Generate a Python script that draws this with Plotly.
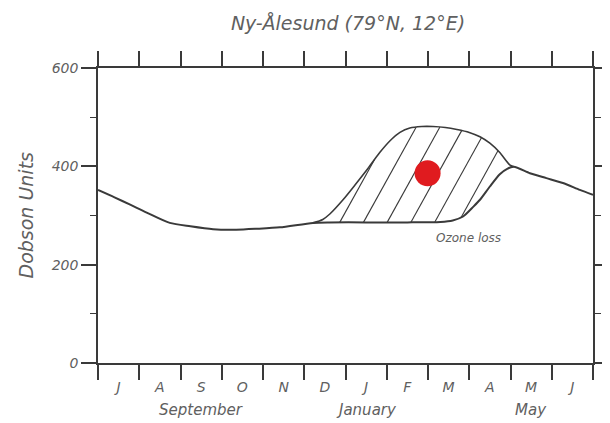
import numpy as np
import plotly.graph_objects as go

# x axis in months: 0 = start of July ... 12 = end of June
month_letters = ["J", "A", "S", "O", "N", "D", "J", "F", "M", "A", "M", "J"]
month_edges = list(range(13))
month_centers = [i + 0.5 for i in range(12)]
season_labels = ["September", "January", "May"]
season_months = [2.5, 6.5, 10.5]

y_ticks = [0, 200, 400, 600]
y_minor = [100, 300, 500]

# observed total ozone (Dobson Units)
obs_month = [0.0, 0.4, 0.78, 1.18, 1.74, 2.24, 2.79, 3.35, 3.85, 4.41, 5.21, 5.6,
             6.5, 7.5, 8.3, 8.6, 8.85, 9.1, 9.26, 9.5, 9.74, 9.92, 10.08,
             10.47, 10.87, 11.27, 11.68, 12.0]
obs_du = [352, 337, 322, 306, 285, 278, 272, 271, 273, 276, 285, 286,
          286, 286, 287, 290, 298, 318, 332, 359, 384, 395, 399,
          386, 376, 366, 352, 342]

# expected ozone without chemical loss
exp_month = [5.21, 5.45, 5.62, 5.94, 6.23, 6.52, 6.83, 7.08, 7.32, 7.56, 7.85,
             8.12, 8.42, 8.70, 9.0, 9.26, 9.5, 9.74, 9.98, 10.08]
exp_du = [285, 292, 303, 332, 362, 393, 428, 452, 469, 478, 481,
          481, 479, 475, 469, 460, 447, 428, 403, 399]

dot_month = [7.99]
dot_du = [386]

loss_label = "Ozone loss"
loss_month = 8.97
loss_du = 255

title_text = "Ny-Ålesund (79°N, 12°E)"
y_title = "Dobson Units"

LINE = "#3a3a3a"
TEXT = "#606060"
FONT = "DejaVu Sans"

# the page body has a default 8px margin; compensate so the plot sits where the reference has it
OFF = 8
W, H = 610 - OFF, 423 - OFF

# hatching between the two curves (clipped to the loss region)
hatch_spacing = 0.575
hatch_slope = 0.0066
hatch_start = 5.86
v_s = np.linspace(250, 520, 2701)
hx, hy = [], []
for k in range(-2, 10):
    c = hatch_start + k * hatch_spacing
    m = c + hatch_slope * (v_s - 286)
    valid = (m >= exp_month[0]) & (m <= exp_month[-1])
    lo = np.interp(m, obs_month, obs_du)
    hi = np.interp(m, exp_month, exp_du)
    inside = valid & (v_s >= lo) & (v_s <= hi)
    idx = np.where(inside)[0]
    if len(idx) < 2:
        continue
    br = np.where(np.diff(idx) > 1)[0]
    end = idx[br[0]] if len(br) else idx[-1]
    i0 = idx[0]
    if end - i0 < 2:
        continue
    hx += [float(m[i0]), float(m[end]), None]
    hy += [float(v_s[i0]), float(v_s[end]), None]

fig = go.Figure()
fig.add_trace(go.Scatter(x=hx, y=hy, mode="lines",
                         line=dict(color=LINE, width=1.1), hoverinfo="skip"))
fig.add_trace(go.Scatter(x=exp_month, y=exp_du, mode="lines",
                         line=dict(color=LINE, width=1.6, shape="spline", smoothing=0.7)))
fig.add_trace(go.Scatter(x=obs_month, y=obs_du, mode="lines",
                         line=dict(color=LINE, width=2.0, shape="spline", smoothing=0.7)))
fig.add_trace(go.Scatter(x=dot_month, y=dot_du, mode="markers", xaxis="x2",
                         marker=dict(color="#e01b1f", size=26, line=dict(width=0))))

fig.add_annotation(x=loss_month, y=loss_du, text=loss_label, showarrow=False,
                   xanchor="center", yanchor="middle",
                   font=dict(family=FONT, size=12, color=TEXT, style="italic"))
for lab, mpos in zip(season_labels, season_months):
    fig.add_annotation(x=mpos, y=-0.16, xref="x", yref="paper", text=lab,
                       showarrow=False, xanchor="center", yanchor="middle",
                       font=dict(family=FONT, size=15, color=TEXT, style="italic"))
fig.add_annotation(x=-73 / 495, y=0.5, xref="paper", yref="paper", text=y_title,
                   textangle=-90, showarrow=False, xanchor="center", yanchor="middle",
                   font=dict(family=FONT, size=19, color=TEXT, style="italic"))

fig.update_layout(
    width=W, height=H,
    margin=dict(l=98 - OFF, r=W - (593 - OFF), t=68 - OFF, b=H - (363 - OFF)),
    paper_bgcolor="white", plot_bgcolor="white",
    showlegend=False,
    title=dict(text=title_text, x=(348 - OFF) / W, xanchor="center",
               y=1 - (23 - OFF) / H, yanchor="middle", automargin=False,
               font=dict(family=FONT, size=19, color=TEXT, style="italic")),
    xaxis=dict(range=[0, 12], tickvals=month_edges, showticklabels=False,
               ticks="outside", ticklen=15, tickwidth=1.5, tickcolor=LINE,
               showline=True, linecolor=LINE, linewidth=1.5, mirror="ticks",
               showgrid=False, zeroline=False, fixedrange=True, automargin=False),
    xaxis2=dict(range=[0, 12], overlaying="x", anchor="y", side="bottom",
                tickvals=month_centers, ticktext=month_letters,
                ticks="outside", ticklen=11, tickcolor="rgba(0,0,0,0)",
                showline=False, showgrid=False, zeroline=False, automargin=False,
                tickfont=dict(family=FONT, size=14, color=TEXT, style="italic")),
    yaxis=dict(range=[0, 600], tickvals=y_ticks, ticktext=[str(v) for v in y_ticks],
               ticks="outside", ticklen=15, tickwidth=1.5, tickcolor=LINE,
               showline=True, linecolor=LINE, linewidth=1.5, mirror="ticks",
               showgrid=False, zeroline=False, automargin=False,
               minor=dict(tickvals=y_minor, ticks="outside", ticklen=6,
                          tickwidth=1.2, tickcolor=LINE, showgrid=False),
               tickfont=dict(family=FONT, size=14, color=TEXT, style="italic")),
)

fig.write_html("out.html")
